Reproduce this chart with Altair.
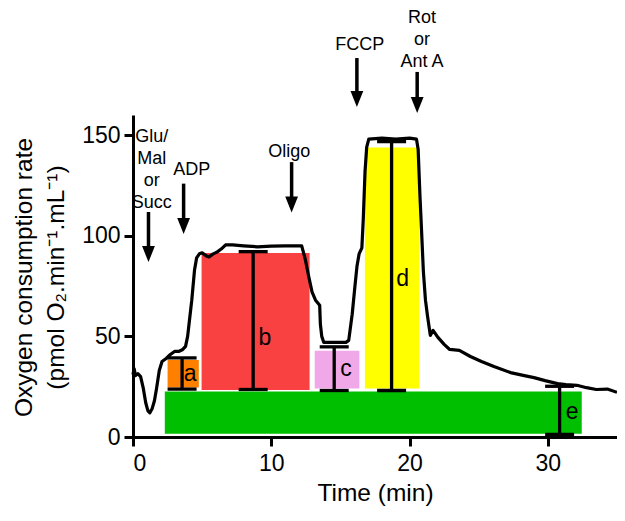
import altair as alt
import pandas as pd

# ---- trace (time in min, OCR in pmol O2/min/mL) ----
trace_t = [0.00, 0.08, 0.18, 0.35, 0.55, 0.75, 0.92, 1.08, 1.22, 1.38, 1.55, 1.70, 1.90, 2.10,
           2.40, 2.70, 3.00, 3.30, 3.60, 3.80, 3.95, 4.10, 4.25, 4.45, 4.60, 4.80, 5.00, 5.30,
           5.50, 5.80, 6.10, 6.40, 6.70, 7.20, 8.00, 9.00, 10.00, 11.00, 12.20, 12.45, 12.70,
           12.95, 13.20, 13.50, 13.55, 13.65, 13.80, 14.50, 15.40, 15.60, 15.85, 16.05, 16.20,
           16.35, 16.55, 16.65, 16.78, 16.90, 17.05, 18.00, 19.00, 20.00, 20.50, 20.62, 20.75,
           20.85, 21.00, 21.15, 21.30, 21.50, 21.70, 22.05, 22.50, 22.90, 23.60, 24.40, 25.20,
           26.10, 27.30, 28.30, 29.00, 29.80, 30.70, 31.30, 32.10, 32.80, 33.50, 34.30, 35.00]
trace_v = [31.0, 34.0, 30.5, 31.5, 30.0, 24.0, 17.0, 13.0, 12.0, 14.0, 18.0, 24.0, 33.0, 37.5,
           39.0, 41.0, 42.5, 42.5, 43.5, 45.0, 50.0, 59.0, 68.0, 83.0, 89.0, 91.0, 91.5, 90.0,
           89.5, 91.0, 92.0, 93.5, 95.5, 95.5, 95.0, 94.5, 94.8, 95.0, 95.0, 88.5, 80.0,
           72.0, 68.0, 65.5, 56.0, 50.0, 47.0, 47.0, 47.0, 48.0, 61.0, 75.0, 85.0,
           91.0, 94.0, 108.0, 132.0, 144.0, 148.0, 148.5, 148.0, 148.5, 148.0, 143.0, 120.0,
           105.0, 82.0, 68.0, 60.0, 50.5, 53.0, 49.5, 46.0, 43.5, 43.0, 40.0, 37.5,
           35.0, 32.0, 30.5, 29.5, 28.0, 26.5, 26.0, 25.7, 24.5, 23.6, 23.8, 22.2]

# ---- coloured blocks ----
rect_x1 = [2.30, 2.50, 4.96, 13.14, 16.77]
rect_x2 = [32.45, 4.76, 12.77, 16.37, 20.70]
rect_y1 = [1.6, 24.6, 23.3, 24.1, 24.1]
rect_y2 = [22.6, 38.3, 91.4, 42.8, 143.9]
rect_color = ["#00BE00", "#FF8000", "#F94141", "#F0A8E8", "#FFFF00"]

# ---- I-bars and letters ----
bar_label = ["a", "b", "c", "d", "e"]
bar_x = [3.55, 8.69, 14.55, 18.70, 30.85]
bar_lo = [23.8, 23.6, 23.1, 23.1, 1.3]
bar_hi = [39.3, 92.1, 44.8, 146.8, 25.2]
label_x = [4.14, 9.53, 15.40, 19.50, 31.75]
label_y = [31.1, 49.4, 33.9, 78.7, 12.2]

# ---- injections ----
inj_text = ["Glu/\nMal\nor\nSucc", "ADP", "Oligo", "FCCP", "Rot\nor\nAnt A"]
inj_x = [1.12, 3.66, 11.47, 16.19, 20.55]
inj_top = [111.8, 125.9, 136.6, 188.3, 181.4]
inj_tip = [86.9, 100.9, 111.6, 164.0, 161.0]
inj_text_x = [1.36, 4.24, 11.30, 16.40, 20.90]
inj_text_y = [146.8, 130.2, 139.0, 192.3, 205.7]

FONT = "Liberation Sans"

trace = pd.DataFrame({"t": trace_t, "v": trace_v})
rects = pd.DataFrame({"x1": rect_x1, "x2": rect_x2, "y1": rect_y1, "y2": rect_y2, "c": rect_color})
bars = pd.DataFrame({"x": bar_x, "lo": bar_lo, "hi": bar_hi, "lab": bar_label,
                     "lx": label_x, "ly": label_y})
inj = pd.DataFrame({"x": inj_x, "top": inj_top, "tip": inj_tip,
                    "shaft_end": [v + 6 for v in inj_tip],
                    "txt": inj_text, "tx": inj_text_x, "ty": inj_text_y})

xscale = alt.Scale(domain=[0, 35], nice=False, zero=False)
yscale = alt.Scale(domain=[0, 160], nice=False, zero=False)
xaxis = alt.Axis(values=[0, 10, 20, 30], title="Time (min)", grid=False,
                 titleY=63, titleBaseline="alphabetic", labelPadding=6)
yaxis = alt.Axis(values=[0, 50, 100, 150], grid=False,
                 title=["Oxygen consumption rate", "(pmol O\u2082.min\u207b\u00b9.mL\u207b\u00b9)"],
                 titleX=-102, titleY=162, titleAngle=270, titleBaseline="alphabetic",
                 titleLineHeight=32, labelPadding=4)


def X(f):
    return alt.X(f, type="quantitative", scale=xscale, axis=xaxis)


def Y(f):
    return alt.Y(f, type="quantitative", scale=yscale, axis=yaxis)


rect_layer = alt.Chart(rects).mark_rect(opacity=1).encode(
    x=X("x1"), x2="x2", y=Y("y1"), y2="y2", color=alt.Color("c:N", scale=None))

line_layer = alt.Chart(trace).mark_line(color="black", strokeWidth=3.2, strokeJoin="round").encode(
    x=X("t"), y=Y("v"), order="t:Q")

bar_rule = alt.Chart(bars).mark_rule(color="black", strokeWidth=3.3).encode(
    x=X("x"), y=Y("lo"), y2="hi")
cap_lo = alt.Chart(bars).mark_tick(color="black", orient="horizontal", size=29, thickness=3.3,
                                   opacity=1).encode(x=X("x"), y=Y("lo"))
cap_hi = alt.Chart(bars).mark_tick(color="black", orient="horizontal", size=29, thickness=3.3,
                                   opacity=1).encode(x=X("x"), y=Y("hi"))
letters = alt.Chart(bars).mark_text(font=FONT, fontSize=23, color="black", align="center",
                                    baseline="middle").encode(x=X("lx"), y=Y("ly"), text="lab:N")

shaft = alt.Chart(inj).mark_rule(color="black", strokeWidth=3.5).encode(
    x=X("x"), y=Y("top"), y2="shaft_end")
head = alt.Chart(inj).mark_point(shape="M-0.4,-1L0.4,-1L0,0Z", size=1024, filled=True,
                                 color="black", opacity=1, strokeWidth=0).encode(
    x=X("x"), y=Y("tip"))
inj_label = alt.Chart(inj).mark_text(font=FONT, fontSize=18, color="black", align="center",
                                     baseline="alphabetic", lineBreak="\n", lineHeight=22).encode(
    x=X("tx"), y=Y("ty"), text="txt:N")

chart = alt.layer(rect_layer, line_layer, bar_rule, cap_lo, cap_hi, letters,
                  shaft, head, inj_label).properties(
    width=484, height=322,
    autosize=alt.AutoSizeParams(type="none"),
    padding={"left": 125, "top": 107, "right": 0, "bottom": 69},
).configure_view(stroke=None).configure_axis(
    domainColor="black", domainWidth=3, tickColor="black", tickWidth=3, tickSize=9,
    labelFont=FONT, labelFontSize=23, labelColor="black",
    titleFont=FONT, titleFontSize=24.5, titleFontWeight="normal", titleColor="black",
)

chart.save("out.html", embed_options={"renderer": "svg", "actions": False})
